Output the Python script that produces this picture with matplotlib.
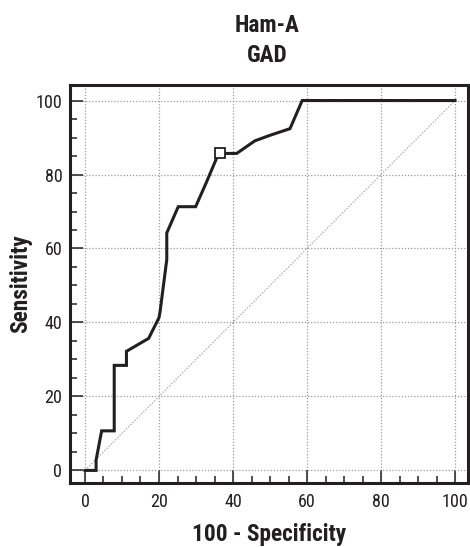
import matplotlib
matplotlib.use("Agg")
import matplotlib.pyplot as plt
from matplotlib import font_manager as fm
from matplotlib.ticker import MultipleLocator

title_lines = ["Ham-A", "GAD"]
x_label = "100 - Specificity"
y_label = "Sensitivity"
x_ticks = [0, 20, 40, 60, 80, 100]
y_ticks = [0, 20, 40, 60, 80, 100]

fpr = [0, 3.0, 3.0, 4.5, 7.9, 7.9, 11.2, 11.2, 17.2, 20.0, 20.3, 22.1, 22.1,
       25.2, 29.9, 32.9, 35.6, 36.5, 41.0, 45.9, 50.0, 55.4, 58.7, 100]
tpr = [0, 0, 2.8, 10.7, 10.7, 28.4, 28.4, 32.2, 35.7, 41.3, 43.0, 57.0, 64.2,
       71.3, 71.3, 78.1, 84.5, 85.7, 85.7, 89.1, 90.6, 92.4, 100, 100]
cut_x = [36.5]
cut_y = [85.7]
ref_line = [0, 100]

# choose a condensed font if one is installed
names = {f.name for f in fm.fontManager.ttflist}
font_name = 'DejaVu Sans'
stretch = 'normal'
for cand in ['Roboto Condensed', 'Liberation Sans Narrow', 'Open Sans Condensed',
             'Noto Sans Condensed', 'DejaVu Sans Condensed']:
    if cand in names:
        font_name = cand
        break
else:
    if any('condensed' in f.fname.lower() and 'dejavusans' in f.fname.lower().replace('-', '')
           for f in fm.fontManager.ttflist):
        stretch = 'condensed'

plt.rcParams['font.family'] = [font_name, 'DejaVu Sans']
plt.rcParams['font.stretch'] = stretch

ink = "#231f20"

fig = plt.figure(figsize=(4.70, 5.47), dpi=100)
renderer = fig.canvas.get_renderer()


def fit_size(text, weight, target_px, start=14.0):
    t = fig.text(0, 0, text, fontsize=start, fontweight=weight)
    w = t.get_window_extent(renderer=renderer).width
    t.remove()
    return start * target_px / w


title_size = fit_size(title_lines[0], 'bold', 65)
label_size = fit_size(x_label, 'bold', 155)
tick_size = fit_size("100", 'normal', 27)

ax = fig.add_axes([70/470, 1-483/547, (468-70)/470, (483-85)/547])

ax.plot(ref_line, ref_line, linestyle=(0, (1, 1.2)), color="#b0b0b0", lw=1.0, zorder=1)
ax.plot(fpr, tpr, color=ink, lw=2.2, solid_joinstyle='miter', zorder=3)
ax.plot(cut_x, cut_y, marker='s', ms=7.5, mfc='white', mec=ink, mew=1.3,
        linestyle='none', zorder=4)

ax.set_xlim(-4.05, 103.5)
ax.set_ylim(-3.4, 104.2)
ax.set_xticks(x_ticks)
ax.set_yticks(y_ticks)
ax.xaxis.set_minor_locator(MultipleLocator(5))
ax.yaxis.set_minor_locator(MultipleLocator(5))
ax.grid(True, which='major', linestyle=(0, (1, 1.5)), color="#9a9a9a", lw=0.9, zorder=0)
ax.set_axisbelow(True)

for s in ax.spines.values():
    s.set_linewidth(2.2)
    s.set_color(ink)

ax.tick_params(which='major', direction='in', length=9.5, width=1.1, color=ink,
               labelsize=tick_size, labelcolor=ink)
ax.tick_params(which='minor', direction='in', length=5, width=1.1, color=ink)
ax.tick_params(axis='x', which='major', pad=7.5)
ax.tick_params(axis='y', which='major', pad=5.5)

ax.set_xlabel(x_label, fontsize=label_size, fontweight='bold', color=ink)
ax.set_ylabel(y_label, fontsize=label_size, fontweight='bold', color=ink)
ax.xaxis.label.set_verticalalignment('center')
ax.yaxis.label.set_verticalalignment('center')
ax.xaxis.set_label_coords(0.5, -(535 - 483) / 398)
ax.yaxis.set_label_coords(-(70 - 21) / 398, 0.5)

fig.text(267.5/470, 1-25/547, title_lines[0], ha='center', va='center',
         fontsize=title_size, fontweight='bold', color=ink)
fig.text(267.5/470, 1-55/547, title_lines[1], ha='center', va='center',
         fontsize=title_size, fontweight='bold', color=ink)

fig.savefig("out.png", dpi=100)
